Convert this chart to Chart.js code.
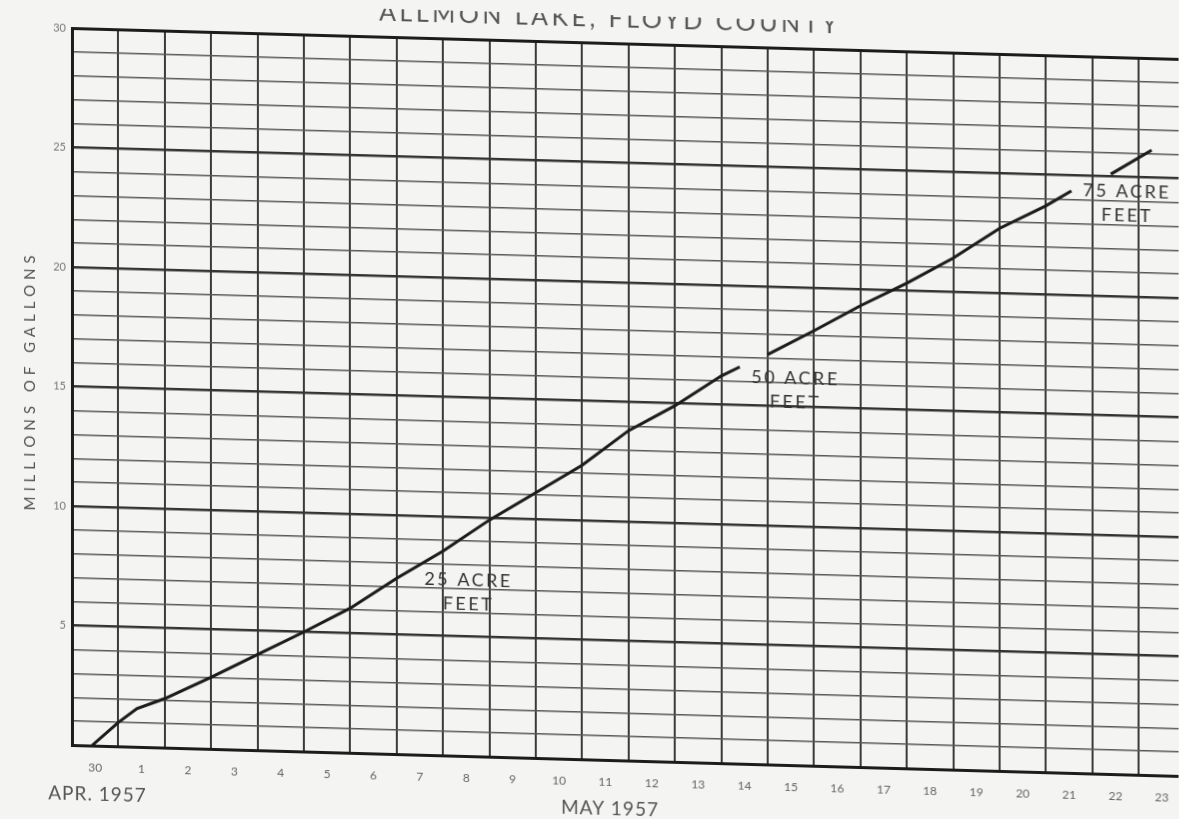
<!DOCTYPE html>
<html lang="en">
<head>
<meta charset="UTF-8">
<title>Allmon Lake, Floyd County</title>
<script src="https://cdn.jsdelivr.net/npm/chart.js"></script>
<style>
    html, body {
        margin: 0;
        padding: 0;
        background: #f4f4f2;
        overflow: hidden;
    }

    /* the scanned sheet is slightly tilted */
    #sheet {
        position: relative;
        width: 1179px;
        height: 819px;
        transform-origin: 72px 0;
        transform: skewY(1.6deg);
    }

    canvas {
        display: block;
    }
</style>
</head>
<body>
<div id="sheet">
    <canvas id="lakeChart" width="1179" height="819"></canvas>
</div>

<script>
    // day labels along the bottom: Apr 30, then May 1 .. 23
    const dayLabels = ['30', '1', '2', '3', '4', '5', '6', '7', '8', '9', '10', '11',
        '12', '13', '14', '15', '16', '17', '18', '19', '20', '21', '22', '23'];

    // curve (days after start of Apr 30, millions of gallons)
    const days = [0.43, 1, 1.4, 2, 3, 4, 5, 6, 7, 8, 9, 10, 11, 12, 13, 14, 14.4, 14.7,
        15, 16, 17, 18, 19, 20, 21, 21.55, 21.9, 22.4, 23.28];
    const gallons = [0, 1.0, 1.6, 2.05, 3.0, 4.0, 5.0, 6.05, 7.35, 8.55, 9.9, 11.1, 12.3, 13.8,
        14.9, 16.2, 16.6, null, 17.15, 18.2, 19.3, 20.3, 21.4, 22.7, 23.7, 24.35, null, 25.1, 26.15];

    const yLabels = [5, 10, 15, 20, 25, 30];

    const notes = [
        { lines: ['25 ACRE', 'FEET'], day: 8.55, value: 7.35 },
        { lines: ['50 ACRE', 'FEET'], day: 15.6, value: 16.2 },
        { lines: ['75 ACRE', 'FEET'], day: 22.75, value: 24.4 }
    ];

    const ink = '#1c1c1c';
    const textInk = '#555';
    const face = 'Lato, "Open Sans", sans-serif';

    // extra text printed on the sheet
    const sheetText = {
        id: 'sheetText',
        afterDraw(chart) {
            const { ctx, chartArea, scales } = chart;
            const x = scales.x, y = scales.y;
            ctx.save();
            ctx.fillStyle = textInk;
            ctx.textAlign = 'center';

            // title, partly cut off at the top of the scan
            ctx.font = '25px ' + face;
            ctx.letterSpacing = '3.5px';
            ctx.textBaseline = 'alphabetic';
            ctx.fillText('ALLMON LAKE, FLOYD COUNTY', x.getPixelForValue(11.6), 12);

            // month captions under the day numbers
            ctx.font = '19px ' + face;
            ctx.letterSpacing = '1px';
            ctx.textBaseline = 'middle';
            ctx.fillText('APR. 1957', x.getPixelForValue(0.55), chartArea.bottom + 49);
            ctx.fillText('MAY 1957', x.getPixelForValue(11.6), chartArea.bottom + 49);

            // acre-feet marks beside the curve
            ctx.fillStyle = '#333';
            ctx.font = '18px ' + face;
            ctx.letterSpacing = '2.5px';
            notes.forEach(n => {
                const px = x.getPixelForValue(n.day);
                const py = y.getPixelForValue(n.value);
                n.lines.forEach((t, i) => ctx.fillText(t, px, py + i * 24));
            });

            // y axis caption
            ctx.fillStyle = textInk;
            ctx.font = '15px ' + face;
            ctx.letterSpacing = '5px';
            ctx.translate(30, (chartArea.top + chartArea.bottom) / 2 - 5);
            ctx.rotate(-Math.PI / 2);
            ctx.fillText('MILLIONS OF GALLONS', 0, 0);
            ctx.restore();
        }
    };

    const ctx = document.getElementById('lakeChart').getContext('2d');
    new Chart(ctx, {
        type: 'line',
        data: {
            datasets: [{
                data: days.map((d, i) => ({ x: d, y: gallons[i] })),
                borderColor: ink,
                borderWidth: 3,
                pointRadius: 0,
                tension: 0,
                spanGaps: false,
                fill: false
            }]
        },
        options: {
            responsive: false,
            animation: false,
            layout: { padding: { top: 28, right: 0, bottom: 0, left: 0 } },
            plugins: {
                legend: { display: false },
                tooltip: { enabled: false },
                title: { display: false }
            },
            scales: {
                x: {
                    type: 'linear',
                    min: 0,
                    max: 23.86,
                    afterBuildTicks: axis => {
                        const t = [];
                        for (let i = 0; i < dayLabels.length; i++) {
                            t.push({ value: i });
                            t.push({ value: i + 0.5 });
                        }
                        axis.ticks = t;
                    },
                    afterFit: axis => {
                        axis.height = 74;
                        axis.paddingLeft = 0;
                        axis.paddingRight = 0;
                    },
                    ticks: {
                        autoSkip: false,
                        maxRotation: 0,
                        padding: 15,
                        color: '#666',
                        font: { family: face, size: 12 },
                        callback: v => Number.isInteger(v) ? '' : dayLabels[Math.floor(v)]
                    },
                    grid: {
                        drawTicks: false,
                        lineWidth: 2,
                        color: c => Number.isInteger(c.tick.value) ? '#3a3a3a' : 'rgba(0,0,0,0)'
                    },
                    border: { color: ink, width: 3 }
                },
                y: {
                    min: 0,
                    max: 30,
                    afterFit: axis => { axis.width = 72; },
                    ticks: {
                        stepSize: 1,
                        autoSkip: false,
                        padding: 6,
                        color: '#777',
                        font: { family: face, size: 11 },
                        callback: v => yLabels.includes(v) ? v : ''
                    },
                    grid: {
                        drawTicks: false,
                        color: c => c.tick.value === 30 ? ink : (c.tick.value % 5 === 0 ? '#333' : '#585858'),
                        lineWidth: c => c.tick.value === 30 ? 3 : (c.tick.value % 5 === 0 ? 2.4 : 1.4)
                    },
                    border: { color: ink, width: 3 }
                }
            }
        },
        plugins: [sheetText]
    });
</script>
</body>
</html>
